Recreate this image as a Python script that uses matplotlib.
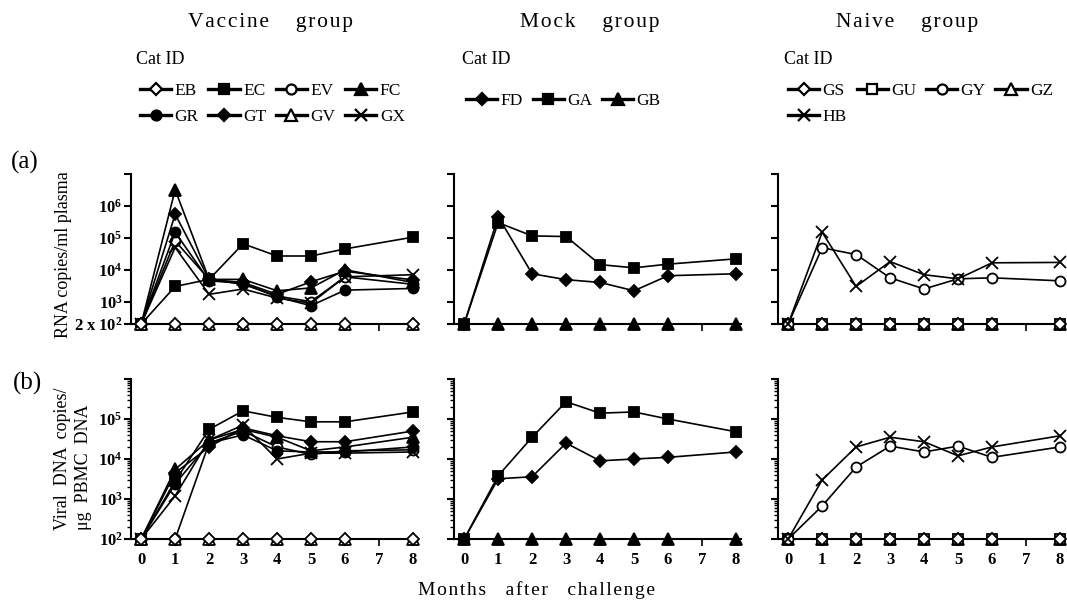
import numpy as np
import matplotlib
matplotlib.use('Agg')
import matplotlib.pyplot as plt
from matplotlib.lines import Line2D
from matplotlib.ticker import FixedLocator, LogLocator, NullFormatter

plt.rcParams['font.family'] = ['Liberation Serif', 'DejaVu Serif']
plt.rcParams['mathtext.fontset'] = 'custom'
plt.rcParams['mathtext.rm'] = 'Liberation Serif'
plt.rcParams['mathtext.bf'] = 'Liberation Serif:bold'
plt.rcParams['mathtext.it'] = 'Liberation Serif:italic'

# ---------------- data ----------------
months = [0, 1, 2, 3, 4, 5, 6, 8]
month_ticks = [0, 1, 2, 3, 4, 5, 6, 7, 8]

vaccine_ids = ['EB', 'EC', 'EV', 'FC', 'GR', 'GT', 'GV', 'GX']
mock_ids = ['FD', 'GA', 'GB']
naive_ids = ['GS', 'GU', 'GY', 'GZ', 'HB']

vaccine_rna = {
    'EB': [2e2, 2e2, 2e2, 2e2, 2e2, 2e2, 2e2, 2e2],
    'EC': [2e2, 3e3, 5e3, 6.5e4, 2.7e4, 2.7e4, 4.5e4, 1.05e5],
    'EV': [2e2, 8e4, 5e3, 3.5e3, 1.5e3, 1.0e3, 6e3, 3.5e3],
    'FC': [2e2, 3.2e6, 5e3, 5e3, 2.2e3, 2.7e3, 1.0e4, 4e3],
    'GR': [2e2, 1.5e5, 4.5e3, 3.8e3, 1.4e3, 7.5e2, 2.3e3, 2.6e3],
    'GT': [2e2, 5.5e5, 5e3, 4e3, 1.7e3, 4.2e3, 9e3, 4.8e3],
    'GV': [2e2, 2e2, 2e2, 2e2, 2e2, 2e2, 2e2, 2e2],
    'GX': [2e2, 5e4, 1.7e3, 2.5e3, 1.3e3, 9e2, 6e3, 7e3],
}
vaccine_dna = {
    'EB': [1e2, 1e2, 1e2, 1e2, 1e2, 1e2, 1e2, 1e2],
    'EC': [1e2, 2.8e3, 5.5e4, 1.6e5, 1.1e5, 8.5e4, 8.5e4, 1.5e5],
    'EV': [1e2, 1e2, 2.5e4, 5e4, 2e4, 1.3e4, 1.6e4, 1.7e4],
    'FC': [1e2, 5.5e3, 3e4, 5.5e4, 3.5e4, 1.6e4, 2e4, 3.5e4],
    'GR': [1e2, 2.4e3, 2.5e4, 4e4, 1.6e4, 1.5e4, 1.5e4, 2e4],
    'GT': [1e2, 4.5e3, 2e4, 6e4, 3.8e4, 2.7e4, 2.7e4, 5e4],
    'GV': [1e2, 1e2, 1e2, 1e2, 1e2, 1e2, 1e2, 1e2],
    'GX': [1e2, 1.2e3, 3e4, 7e4, 1e4, 1.4e4, 1.4e4, 1.5e4],
}
mock_rna = {
    'FD': [2e2, 4.6e5, 7.5e3, 4.9e3, 4e3, 2.2e3, 6.5e3, 7.5e3],
    'GA': [2e2, 3e5, 1.15e5, 1.1e5, 1.45e4, 1.15e4, 1.5e4, 2.2e4],
    'GB': [2e2, 2e2, 2e2, 2e2, 2e2, 2e2, 2e2, 2e2],
}
mock_dna = {
    'FD': [1e2, 3.2e3, 3.6e3, 2.5e4, 9e3, 1e4, 1.1e4, 1.5e4],
    'GA': [1e2, 3.8e3, 3.5e4, 2.7e5, 1.4e5, 1.5e5, 1e5, 4.8e4],
    'GB': [1e2, 1e2, 1e2, 1e2, 1e2, 1e2, 1e2, 1e2],
}
naive_rna = {
    'GS': [2e2, 2e2, 2e2, 2e2, 2e2, 2e2, 2e2, 2e2],
    'GU': [2e2, 2e2, 2e2, 2e2, 2e2, 2e2, 2e2, 2e2],
    'GY': [2e2, 4.9e4, 3e4, 5.6e3, 2.5e3, 5.2e3, 5.6e3, 4.5e3],
    'GZ': [2e2, 2e2, 2e2, 2e2, 2e2, 2e2, 2e2, 2e2],
    'HB': [2e2, 1.5e5, 3e3, 1.8e4, 7e3, 5.2e3, 1.65e4, 1.7e4],
}
naive_dna = {
    'GS': [1e2, 1e2, 1e2, 1e2, 1e2, 1e2, 1e2, 1e2],
    'GU': [1e2, 1e2, 1e2, 1e2, 1e2, 1e2, 1e2, 1e2],
    'GY': [1e2, 6.7e2, 6.3e3, 2.1e4, 1.5e4, 2.1e4, 1.1e4, 2e4],
    'GZ': [1e2, 1e2, 1e2, 1e2, 1e2, 1e2, 1e2, 1e2],
    'HB': [1e2, 3e3, 2e4, 3.5e4, 2.7e4, 1.2e4, 2e4, 3.8e4],
}

rna_ticks = [2e2, 1e3, 1e4, 1e5, 1e6, 1e7]
rna_ticklabels = [r'$\mathbf{2\ x\ 10^{2}}$', r'$\mathbf{10^{3}}$', r'$\mathbf{10^{4}}$',
                  r'$\mathbf{10^{5}}$', r'$\mathbf{10^{6}}$', '']
dna_ticks = [1e2, 1e3, 1e4, 1e5, 1e6]
dna_ticklabels = [r'$\mathbf{10^{2}}$', r'$\mathbf{10^{3}}$', r'$\mathbf{10^{4}}$',
                  r'$\mathbf{10^{5}}$', '']

# marker style per cat: (marker, face, size)
styles = {
    'EB': ('D', 'white', 5.8), 'EC': ('s', 'black', 6.6), 'EV': ('o', 'white', 7.2),
    'FC': ('^', 'black', 8.0), 'GR': ('o', 'black', 7.2), 'GT': ('D', 'black', 5.8),
    'GV': ('^', 'white', 8.0), 'GX': ('x', 'black', 8.5),
    'FD': ('D', 'black', 5.8), 'GA': ('s', 'black', 6.6), 'GB': ('^', 'black', 8.0),
    'GS': ('D', 'white', 5.8), 'GU': ('s', 'white', 6.6), 'GY': ('o', 'white', 7.2),
    'GZ': ('^', 'white', 8.0), 'HB': ('x', 'black', 8.5),
}
# drawing order (first drawn = lowest)
draw_order = {
    'vaccine': ['EV', 'GX', 'GR', 'GT', 'FC', 'EC', 'GV', 'EB'],
    'mock': ['GB', 'FD', 'GA'],
    'naive': ['GZ', 'GU', 'GS', 'GY', 'HB'],
}

W, H = 1067, 602
fig = plt.figure(figsize=(W / 100, H / 100), dpi=100)


def rect(left, top, width, height):
    return [left / W, 1 - (top + height) / H, width / W, height / H]


def fx(px):
    return px / W


def fy(py):
    return 1 - py / H


def spaced(s, gap='\u200a'):
    return gap.join(list(s))


def make_ax(left, top, height, data, order, ylim, ticks, ticklabels, show_y, show_x):
    ax = fig.add_axes(rect(left, top, 287, height))
    for k, cid in enumerate(order):
        m, fc, ms = styles[cid]
        ax.plot(months, data[cid], color='black', lw=1.2, marker=m, mfc=fc, mec='black',
                ms=ms, mew=1.3, clip_on=False, zorder=3 + k * 0.01)
    ax.set_yscale('log')
    ax.set_ylim(*ylim)
    ax.set_xlim(-0.3, 8.15)
    ax.yaxis.set_major_locator(FixedLocator(ticks))
    ax.yaxis.set_minor_locator(LogLocator(base=10, subs=np.arange(2, 10)))
    ax.yaxis.set_minor_formatter(NullFormatter())
    if show_y:
        ax.set_yticklabels(ticklabels)
    else:
        ax.set_yticklabels([''] * len(ticks))
    ax.set_xticks(month_ticks)
    if show_x:
        ax.set_xticklabels([str(t) for t in month_ticks], fontweight='bold', fontsize=12)
    else:
        ax.set_xticklabels([''] * len(month_ticks))
    for s in ['top', 'right']:
        ax.spines[s].set_visible(False)
    for s in ['left', 'bottom']:
        ax.spines[s].set_linewidth(1.5)
    ax.tick_params(axis='y', which='major', length=5, width=1.5, labelsize=12, pad=1)
    ax.tick_params(axis='y', which='minor', length=3, width=1.0)
    ax.tick_params(axis='x', which='major', length=5, width=1.2, pad=4)
    ax.patch.set_alpha(0)
    return ax


lefts = [131, 454, 778]
groups = [(vaccine_ids, vaccine_rna, vaccine_dna, draw_order['vaccine']),
          (mock_ids, mock_rna, mock_dna, draw_order['mock']),
          (naive_ids, naive_rna, naive_dna, draw_order['naive'])]
for i, (ids, rna, dna, order) in enumerate(groups):
    make_ax(lefts[i], 174, 150, rna, order, (2e2, 1e7), rna_ticks, rna_ticklabels, i == 0, False)
    make_ax(lefts[i], 379, 160, dna, order, (1e2, 1e6), dna_ticks, dna_ticklabels, i == 0, True)

# group titles
titles = ['Vaccine', 'Mock', 'Naive']
title_x = [271, 590, 907]
for t, x in zip(titles, title_x):
    fig.text(fx(x), fy(22), spaced(t) + '     ' + spaced('group'), ha='center', va='center',
             fontsize=15.5)

# legends
leg_x = [140, 466, 788]
leg_y = [104, 101, 104]
for i, (ids, _, _, _) in enumerate(groups):
    fig.text(fx(leg_x[i] - 4), fy(60), 'Cat ID', ha='left', va='center', fontsize=13)
    if len(ids) == 8:
        order = [ids[0], ids[4], ids[1], ids[5], ids[2], ids[6], ids[3], ids[7]]
    elif len(ids) == 5:
        order = [ids[0], ids[4], ids[1], ids[2], ids[3]]
    else:
        order = ids
    handles = []
    for cid in order:
        m, fc, ms = styles[cid]
        handles.append(Line2D([], [], color='black', lw=2.4, marker=m, mfc=fc, mec='black',
                              ms=ms, mew=1.6))
    fig.legend(handles, order, ncol=4, loc='center left',
               bbox_to_anchor=(fx(leg_x[i]), fy(leg_y[i])), bbox_transform=fig.transFigure,
               frameon=False, fontsize=12.5, handlelength=1.8, handletextpad=0.2,
               columnspacing=0.55, labelspacing=0.6, borderpad=0, borderaxespad=0)

# panel labels
fig.text(fx(25), fy(162), '(a)', ha='center', va='center', fontsize=18)
fig.text(fx(28), fy(383), '(b)', ha='center', va='center', fontsize=18)

# axis labels
fig.text(fx(64), fy(255), 'RNA copies/ml plasma', rotation=90, ha='center', va='center',
         fontsize=13)
fig.text(fx(73), fy(530), 'Viral  DNA  copies/\n\u03bcg  PBMC  DNA', rotation=90,
         ha='center', va='bottom', multialignment='left', fontsize=13, linespacing=1.35)
fig.text(fx(536), fy(590), spaced('Months') + '    ' + spaced('after') + '    ' + spaced('challenge'),
         ha='center', va='center', fontsize=14)

fig.savefig('out.png', dpi=100)
